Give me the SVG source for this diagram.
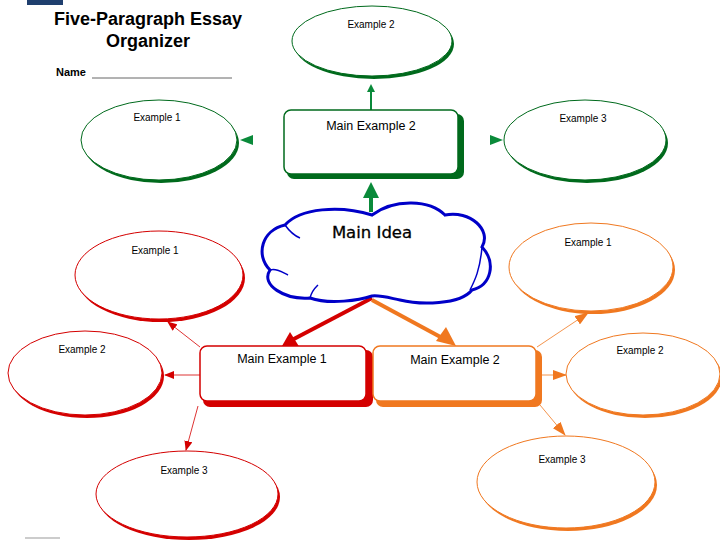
<svg xmlns="http://www.w3.org/2000/svg" width="720" height="540" viewBox="0 0 720 540">
<style>
.t{font-family:"Liberation Sans",Arial,sans-serif;fill:#000;text-anchor:middle}
.ex{font-size:10px}
.mx{font-size:12.5px}
.wf{fill:#fff}
.g{stroke:#006a1c}
.r{stroke:#d40000}
.o{stroke:#f07820}
</style>
<defs>
<marker id="ag" markerWidth="4" markerHeight="4" refX="3" refY="2" orient="auto" markerUnits="strokeWidth"><path d="M0,0 L4,2 L0,4 Z" fill="#0a8a3a"/></marker>
<marker id="ar" markerWidth="10" markerHeight="8" refX="9" refY="4" orient="auto" markerUnits="userSpaceOnUse"><path d="M0,0 L10,4 L0,8 Z" fill="#d40000"/></marker>
<marker id="ao" markerWidth="14" markerHeight="10" refX="13" refY="5" orient="auto" markerUnits="userSpaceOnUse"><path d="M0,0 L14,5 L0,10 Z" fill="#f07820"/></marker>
</defs>
<rect x="27" y="0" width="36" height="5" fill="#1f3f6e"/>
<line x1="25" y1="538" x2="60" y2="538" stroke="#999" stroke-width="1"/>
<text class="t" x="148" y="25" font-size="18" font-weight="bold">Five-Paragraph Essay</text>
<text class="t" x="148" y="47" font-size="18" font-weight="bold">Organizer</text>
<text x="56" y="76" font-family="Liberation Sans,Arial,sans-serif" font-size="11" font-weight="bold">Name</text>
<line x1="92" y1="78" x2="232" y2="78" stroke="#666" stroke-width="1"/>

<g id="connectors">
<line x1="371" y1="110" x2="371" y2="86" stroke="#0a8a3a" stroke-width="2" marker-end="url(#ag)"/>
<line x1="371" y1="212" x2="371" y2="186" stroke="#0a8a3a" stroke-width="4" marker-end="url(#ag)"/>
<polygon points="240,140 253,135 253,145" fill="#0a8a3a"/>
<polygon points="503,140 490,135 490,145" fill="#0a8a3a"/>
<line x1="372" y1="298" x2="290" y2="341" stroke="#d40000" stroke-width="4"/>
<polygon points="282,346 290,332 300,348" fill="#d40000"/>
<line x1="372" y1="300" x2="446" y2="340" stroke="#f07820" stroke-width="4"/>
<polygon points="456,346 436,341 446,327" fill="#f07820"/>
<line x1="200" y1="347" x2="168" y2="322" stroke="#d40000" stroke-width="0.8" marker-end="url(#ar)"/>
<line x1="200" y1="375" x2="165" y2="375" stroke="#d40000" stroke-width="0.8" marker-end="url(#ar)"/>
<line x1="198" y1="406" x2="186" y2="450" stroke="#d40000" stroke-width="0.8" marker-end="url(#ar)"/>
<line x1="537" y1="347" x2="588" y2="313" stroke="#f07820" stroke-width="0.8" marker-end="url(#ao)"/>
<line x1="540" y1="375" x2="566" y2="375" stroke="#f07820" stroke-width="0.8" marker-end="url(#ao)"/>
<line x1="540" y1="405" x2="565" y2="435" stroke="#f07820" stroke-width="0.8" marker-end="url(#ao)"/>
</g>

<g id="g-top-ex2">
<ellipse cx="374" cy="44" rx="80" ry="35" fill="#006a1c"/>
<ellipse cx="372" cy="41" rx="80" ry="35" class="wf g" stroke-width="1"/>
<text class="t ex" x="371" y="28">Example 2</text>
</g>
<g id="g-main2">
<rect x="287" y="114" width="177" height="65" rx="7" fill="#006a1c"/>
<rect x="284" y="110" width="174" height="64" rx="7" class="wf g" stroke-width="1.5"/>
<text class="t mx" x="371" y="130">Main Example 2</text>
</g>
<g id="g-left-ex1">
<ellipse cx="161" cy="143" rx="78" ry="40" fill="#006a1c"/>
<ellipse cx="159" cy="140" rx="78" ry="40" class="wf g" stroke-width="1"/>
<text class="t ex" x="157" y="121">Example 1</text>
</g>
<g id="g-right-ex3">
<ellipse cx="587" cy="143" rx="81" ry="40" fill="#006a1c"/>
<ellipse cx="585" cy="140" rx="81" ry="40" class="wf g" stroke-width="1"/>
<text class="t ex" x="583" y="122">Example 3</text>
</g>

<g id="main-idea">
<path d="M372,215 C395,198 430,200 445,215 C470,210 492,230 482,247 C496,262 492,285 472,290 C460,305 420,305 400,300 C390,298 380,295 372,296 C360,300 330,305 310,298 C285,300 260,285 270,270 C255,255 262,230 285,225 C300,208 340,205 372,215 Z" fill="#fff" stroke="#0000c8" stroke-width="3"/>
<path d="M285,225 C290,232 295,236 300,238 M470,290 C475,280 480,270 482,247 M310,298 C312,290 316,287 318,285 M270,270 C276,268 282,272 288,275" fill="none" stroke="#0000c8" stroke-width="1.5"/>
<text x="372" y="238" font-family="DejaVu Sans,Verdana,sans-serif" font-size="16.5" text-anchor="middle" fill="#000" stroke="#000" stroke-width="0.3">Main Idea</text>
</g>

<g id="red-main1">
<rect x="203" y="350" width="170" height="57" rx="7" fill="#d40000"/>
<rect x="200" y="346" width="166" height="55" rx="7" class="wf r" stroke-width="1.5"/>
<text class="t mx" x="282" y="363">Main Example 1</text>
</g>
<g id="red-ex1">
<ellipse cx="161" cy="278" rx="84" ry="44" fill="#d40000"/>
<ellipse cx="159" cy="275" rx="84" ry="44" class="wf r" stroke-width="1"/>
<text class="t ex" x="155" y="254">Example 1</text>
</g>
<g id="red-ex2">
<ellipse cx="87" cy="376" rx="77" ry="42" fill="#d40000"/>
<ellipse cx="85" cy="373" rx="77" ry="42" class="wf r" stroke-width="1"/>
<text class="t ex" x="82" y="353">Example 2</text>
</g>
<g id="red-ex3">
<ellipse cx="189" cy="497" rx="91" ry="43" fill="#d40000"/>
<ellipse cx="187" cy="494" rx="91" ry="43" class="wf r" stroke-width="1"/>
<text class="t ex" x="184" y="474">Example 3</text>
</g>

<g id="orange-main2">
<rect x="376" y="350" width="166" height="57" rx="7" fill="#f07820"/>
<rect x="373" y="346" width="163" height="55" rx="7" class="wf o" stroke-width="1.5"/>
<text class="t mx" x="455" y="364">Main Example 2</text>
</g>
<g id="orange-ex1">
<ellipse cx="593" cy="270" rx="82" ry="44" fill="#f07820"/>
<ellipse cx="591" cy="267" rx="82" ry="44" class="wf o" stroke-width="1"/>
<text class="t ex" x="588" y="246">Example 1</text>
</g>
<g id="orange-ex2">
<ellipse cx="645" cy="377" rx="77" ry="41" fill="#f07820"/>
<ellipse cx="643" cy="374" rx="77" ry="41" class="wf o" stroke-width="1"/>
<text class="t ex" x="640" y="354">Example 2</text>
</g>
<g id="orange-ex3">
<ellipse cx="568" cy="485" rx="89" ry="46" fill="#f07820"/>
<ellipse cx="566" cy="482" rx="89" ry="46" class="wf o" stroke-width="1"/>
<text class="t ex" x="562" y="463">Example 3</text>
</g>
</svg>
